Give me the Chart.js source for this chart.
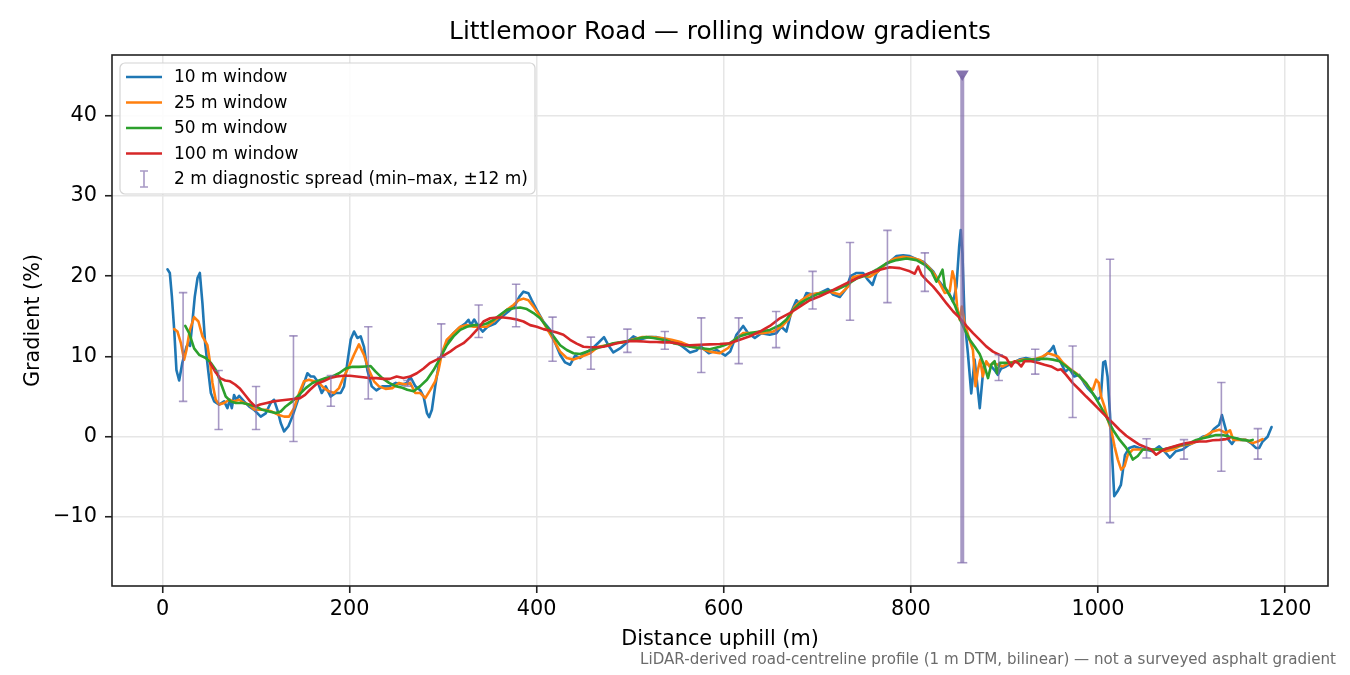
<!DOCTYPE html>
<html>
<head>
<meta charset="utf-8">
<script src="https://cdn.jsdelivr.net/npm/chart.js@4.4.1/dist/chart.umd.min.js"></script>
<style>
  html, body { margin: 0; padding: 0; background: #ffffff; }
  #wrap { width: 1350px; height: 675px; position: relative; }
</style>
</head>
<body>
<div id="wrap"><canvas id="c" width="1350" height="675"></canvas></div>
<script>
// ---------------- DATA ----------------
const chartTitle = "Littlemoor Road \u2014 rolling window gradients";
const xLabel = "Distance uphill (m)";
const yLabel = "Gradient (%)";
const footnote = "LiDAR-derived road-centreline profile (1 m DTM, bilinear) \u2014 not a surveyed asphalt gradient";
const seriesNames = ["10 m window", "25 m window", "50 m window", "100 m window"];
const errorName = "2 m diagnostic spread (min\u2013max, \u00b112 m)";
const xTicks = [0, 200, 400, 600, 800, 1000, 1200];
const yTicks = [-10, 0, 10, 20, 30, 40];

// [distance (m), gradient (%)]
const win10 = [[5.3,20.85],[7.8,20.4],[10,17.5],[12.5,13.3],[14.9,8.3],[17.8,7.0],[21.2,9.2],[25.6,11.2],[27.7,11.6],[29.5,11.3],[31.3,13.5],[34.5,17.45],[37.5,19.8],[39.9,20.4],[42.7,16.6],[45.6,11.6],[48.8,8.3],[51.7,5.44],[55.2,4.4],[60.5,4.0],[65.9,4.4],[69.4,3.56],[71.9,4.6],[74.1,3.56],[76.5,5.2],[79,4.6],[81.9,5.1],[87.2,4.4],[92.5,3.77],[97.9,3.35],[105,2.5],[110.3,2.9],[115.6,4.2],[119.2,4.6],[122.8,3.35],[126.4,1.7],[130,0.66],[134.6,1.3],[138.8,2.5],[146,5.0],[151.3,6.67],[154.9,7.9],[158.5,7.5],[162,7.5],[165.6,6.9],[170.2,5.44],[174.5,6.27],[179.8,5.0],[185.2,5.44],[190.5,5.44],[194.1,6.27],[197.6,9.2],[201.2,12.1],[204.8,13.1],[208.3,12.3],[211.9,12.5],[215.4,11.2],[219,8.3],[223.7,6.27],[228.6,5.77],[235,6.27],[242.2,6.27],[249.3,6.7],[256.4,6.5],[261.3,6.7],[264.8,7.5],[270.2,6.3],[275.5,5.8],[279.1,5.0],[282.7,2.95],[285.1,2.45],[288,3.35],[291.5,6.25],[296.2,9.57],[300.4,10.8],[305.8,12.07],[311.1,12.9],[316.5,13.5],[323.6,14.1],[327.1,14.56],[329.6,13.9],[333.2,14.6],[337.8,13.7],[342.4,13.1],[347.4,13.7],[355.6,14.1],[362.7,14.95],[369.8,15.6],[376.9,16.4],[381.6,17.45],[385.9,18.07],[391.2,17.87],[394.8,17.0],[400.1,15.8],[407.3,14.3],[414.4,13.3],[419.7,11.7],[425.1,10.2],[430.4,9.25],[435.7,8.96],[441.1,10.1],[446.4,9.8],[451.7,10.4],[458.8,10.9],[466,11.7],[472,12.4],[476.6,11.4],[482,10.5],[489.1,11.0],[496.2,11.7],[503.4,12.5],[510.5,12.1],[519.4,12.4],[528.3,12.4],[539,12.1],[549.7,11.7],[556.8,11.15],[563.9,10.5],[571,10.75],[574.9,11.3],[584,10.4],[592.6,10.8],[601.7,10.1],[606.9,10.6],[613.6,12.7],[620.8,13.8],[626.1,12.9],[633.2,12.3],[640.3,12.9],[649.1,12.7],[656.3,12.9],[661.6,13.7],[667,13.1],[672.4,15.6],[677.6,17.0],[683,16.4],[688.4,17.9],[695.5,17.7],[702.6,17.9],[711.6,18.4],[716.9,17.7],[724.1,17.4],[731.2,18.5],[735.5,20.0],[741.9,20.4],[749,20.4],[754.4,19.5],[759,18.9],[763.3,20.4],[770.4,21.2],[777.5,21.8],[784.7,22.5],[791.8,22.6],[798.9,22.5],[806,22.1],[813.2,21.8],[818.5,21.2],[823.9,20.6],[829.2,19.5],[834.6,18.7],[839.9,18.1],[845.2,16.8],[848.8,18.7],[851.7,23.7],[853.4,25.75],[855.2,22.8],[857.5,14.56],[861,10.4],[864.6,5.4],[868.2,9.6],[873.7,3.56],[877.8,8.75],[880.6,9.2],[886,8.75],[889.5,8.3],[893,7.7],[896.6,8.5],[901.7,8.75],[908.8,9.2],[915.9,9.6],[923,9.8],[930.2,9.6],[937.3,9.6],[944.4,10.2],[949.7,10.8],[952.6,11.3],[955.8,10.0],[960.5,9.2],[965.1,8.1],[969.4,8.5],[974.7,7.5],[980,7.7],[985.4,6.67],[989,6.05],[994.3,5.4],[999.7,4.6],[1003.2,5.0],[1005.7,9.25],[1007.8,9.4],[1010.3,7.5],[1012.9,2.9],[1015,-2.0],[1017.5,-7.4],[1021,-6.8],[1024.6,-6.0],[1026.4,-4.5],[1028.9,-2.3],[1033.5,-1.4],[1038.9,-1.2],[1044.2,-1.4],[1051.3,-1.6],[1058.4,-1.8],[1065.6,-1.2],[1070.9,-1.8],[1077,-2.6],[1083.4,-1.8],[1090.5,-1.6],[1097.6,-1.0],[1104.8,-0.6],[1111.9,0.0],[1119,0.2],[1124.4,1.0],[1129.7,1.5],[1132.6,2.7],[1135.1,1.6],[1139.7,-0.4],[1143.3,-0.9],[1147.6,-0.2],[1152.9,-0.4],[1158.2,-0.4],[1163.6,-0.8],[1168.9,-1.4],[1172.5,-1.4],[1176.1,-0.6],[1181.4,0.0],[1185.7,1.2]];

const win25 = [[12.5,13.4],[16,13.1],[19.6,11.7],[23.1,9.6],[25.6,10.8],[29.2,13.3],[33.8,14.9],[38.4,14.35],[42.7,12.5],[48,11.4],[50.9,9.2],[53.4,6.7],[56.9,4.6],[60.5,4.0],[65.9,4.2],[71.2,4.6],[76.5,4.4],[81.9,4.6],[87.2,4.2],[92.5,4.0],[97.9,3.4],[103.2,3.35],[110.3,3.35],[117.4,3.1],[124.6,2.7],[130,2.5],[135.3,2.5],[140.6,3.56],[146,5.4],[151.3,6.9],[156.6,7.1],[162,6.9],[167.3,6.7],[172.6,6.05],[178,5.65],[183.3,5.44],[188.7,6.05],[194,7.5],[199.3,8.75],[204.7,10.2],[210,11.5],[215.4,10.2],[220.7,8.3],[226.1,6.9],[231.4,6.27],[238.5,5.96],[245.6,6.05],[252.8,6.7],[259.5,6.5],[264.8,6.7],[270.2,5.44],[275.5,5.44],[280.9,4.8],[286.2,5.8],[291.5,6.9],[295.1,8.3],[298.7,10.4],[304,12.1],[311.1,12.9],[318.3,13.7],[325.4,13.9],[332.5,13.7],[339.6,13.7],[346.7,13.7],[353.9,14.35],[361,15.05],[368.1,15.8],[375.2,16.4],[380.6,17.0],[385.9,17.2],[391.2,17.0],[396.6,16.2],[403.7,14.95],[410.8,13.5],[418,12.07],[425.1,10.6],[432.2,9.8],[439.3,9.6],[448.2,10.0],[457.1,10.4],[466,11.2],[474.9,11.4],[483.8,11.65],[492.7,11.75],[501.6,12.07],[512.3,12.4],[523,12.4],[533.6,12.3],[544.3,12.07],[555,11.75],[565.6,11.2],[576.3,11.0],[585.1,10.6],[595.8,10.4],[604.7,11.05],[611.8,12.07],[620.8,12.9],[631.4,12.9],[642.1,12.9],[652.8,13.1],[661.6,13.7],[668.8,14.56],[675.9,16.2],[683,17.0],[691.9,17.7],[702.6,17.9],[713.3,18.07],[724,17.7],[733,18.7],[738.3,19.9],[747.2,20.1],[756.1,19.9],[765,20.6],[774,21.6],[782.9,22.2],[791.8,22.4],[800.7,22.3],[809.6,22.0],[818.5,21.2],[825.6,20.2],[831,19.1],[836.3,17.9],[841.6,18.1],[844.5,20.6],[847,19.5],[849.5,16.2],[852.3,14.56],[854.5,16.2],[857.5,14.15],[862.8,12.07],[866.4,10.8],[869.2,6.3],[871.7,8.3],[874.2,9.6],[877,7.5],[880.6,9.4],[884.2,8.75],[887.8,9.2],[893.1,8.96],[898.4,8.75],[905.5,9.2],[912.7,9.4],[919.8,9.6],[927,9.6],[934.1,9.7],[941.2,10.0],[946.6,10.4],[951.9,10.2],[957.2,10.0],[962.6,9.2],[969.7,8.5],[976.8,7.9],[983.9,7.1],[991.1,6.05],[994.6,5.85],[998.2,7.1],[1001,6.7],[1003.5,5.0],[1007,3.77],[1010.6,2.1],[1014.2,0.87],[1017.8,-1.2],[1021.3,-2.85],[1024.9,-4.1],[1028.4,-3.7],[1032,-2.25],[1037.3,-1.6],[1044.4,-1.6],[1051.5,-1.6],[1058.6,-1.6],[1065.7,-1.6],[1072.8,-1.8],[1080,-1.6],[1087.1,-1.2],[1094.2,-1.0],[1101.3,-0.8],[1108.4,-0.4],[1115.6,0.12],[1122.7,0.66],[1129.8,0.87],[1136.9,0.45],[1141.2,0.8],[1144.8,-0.4],[1151.1,-0.4],[1158.2,-0.4],[1165.4,-0.8],[1170.7,-0.6],[1176.1,-0.3]];

const win50 = [[24.3,13.8],[28.5,12.9],[33.8,11.0],[39.1,10.2],[46.3,9.8],[51.6,9.2],[57,8.3],[62.3,6.7],[67.6,5.0],[73,4.4],[78.3,4.2],[85.4,4.2],[92.5,4.0],[99.7,3.77],[106.8,3.35],[113.9,3.14],[121,2.95],[126.4,3.14],[131.7,3.77],[138.8,4.4],[146,5.2],[153.1,6.05],[160.2,6.7],[167.3,7.0],[174.5,7.3],[181.6,7.5],[188.7,7.9],[195.8,8.5],[203,8.7],[210,8.7],[217.2,8.75],[222.5,8.8],[227.8,8.1],[235,7.3],[242.2,6.7],[249.3,6.3],[256.4,6.1],[261.7,5.85],[268.4,5.65],[275.5,6.3],[282.7,7.1],[289.8,8.3],[296.9,9.8],[304,11.4],[311.1,12.5],[318.3,13.3],[325.4,13.7],[332.5,13.9],[339.6,13.9],[346.7,14.1],[353.9,14.56],[361,15.2],[368.1,15.8],[375.2,16.0],[382.4,16.1],[389.5,15.9],[396.6,15.4],[403.7,14.75],[410.8,13.7],[418,12.5],[425.1,11.4],[432.2,10.8],[439.3,10.4],[446.4,10.3],[453.5,10.6],[460.6,10.9],[467.8,11.15],[474.9,11.4],[482,11.65],[489.1,11.75],[496.2,11.9],[503.4,12.07],[510.5,12.3],[517.6,12.4],[524.7,12.3],[531.8,12.15],[539,12.0],[546.1,11.65],[553.2,11.5],[563.8,11.2],[574.4,11.05],[585.1,10.9],[595.8,11.2],[606.5,11.65],[617.2,12.5],[627.9,12.9],[638.6,13.1],[649.3,13.3],[660,13.9],[667,14.6],[674.2,15.8],[681.3,16.6],[690.2,17.2],[699.1,17.7],[709.8,18.07],[720.5,18.3],[731.2,18.9],[741.9,19.7],[752.6,20.1],[763.3,20.8],[774,21.6],[784.7,22.0],[795.4,22.2],[806.1,22.0],[815,21.4],[822.1,20.6],[827.4,19.3],[831,20.1],[833.9,20.8],[836.3,18.7],[839.9,17.9],[843.5,17.2],[847,16.4],[852.3,14.7],[857.7,13.3],[863,12.07],[868.4,11.2],[873.6,10.3],[878.9,8.75],[882.5,7.3],[886,8.96],[889.6,9.4],[892.1,7.9],[895,9.2],[902.1,9.2],[909.2,9.25],[916.4,9.4],[923.5,9.6],[930.6,9.6],[937.7,9.7],[944.8,9.7],[951.9,9.6],[959,9.4],[966.2,8.75],[973.3,8.1],[980.4,7.5],[987.5,6.67],[994.6,5.4],[1001.8,4.0],[1008.9,2.5],[1016,0.87],[1023.1,-0.37],[1030.3,-1.4],[1033.8,-2.0],[1037.4,-2.85],[1042.7,-2.4],[1048,-1.6],[1055.2,-1.6],[1062.3,-1.6],[1069.4,-1.6],[1076.5,-1.4],[1083.6,-1.2],[1090.8,-1.0],[1097.9,-0.8],[1105,-0.4],[1112.1,-0.2],[1119.2,0.0],[1126.3,0.2],[1133.4,0.2],[1140.6,0.0],[1147.7,-0.2],[1154.8,-0.4],[1161.9,-0.5],[1165.5,-0.4]];

const win100 = [[50.9,9.2],[56.3,8.1],[61.6,7.3],[67,7.0],[72.3,6.9],[77.6,6.5],[83,5.96],[88.3,5.2],[93.7,4.4],[99,3.77],[104.3,4.0],[111.4,4.2],[118.5,4.4],[125.7,4.5],[132.8,4.6],[139.9,4.7],[147,4.8],[152.4,5.2],[157.7,5.85],[164.8,6.6],[171.9,6.9],[179.1,7.3],[186.2,7.5],[193.3,7.6],[200.4,7.6],[207.5,7.5],[214.6,7.4],[221.8,7.3],[228.9,7.3],[236,7.2],[243.1,7.2],[250.3,7.5],[257.4,7.3],[264.8,7.5],[271.9,7.9],[279.1,8.5],[286.2,9.2],[293.3,9.6],[300.4,10.1],[307.5,10.6],[314.6,11.2],[321.8,11.65],[328.9,12.4],[336,13.3],[343.1,14.35],[350.3,14.75],[357.4,14.85],[364.5,14.85],[371.6,14.75],[378.7,14.6],[385.9,14.35],[393,13.9],[400.1,13.7],[407.2,13.4],[414.4,13.2],[421.5,12.97],[428.6,12.7],[435.7,12.07],[442.8,11.6],[450,11.2],[457.1,11.15],[464.2,11.15],[471.3,11.2],[478.4,11.4],[485.6,11.65],[492.7,11.8],[499.8,11.9],[506.9,11.9],[514,11.85],[521.2,11.8],[528.3,11.8],[535.4,11.75],[542.5,11.75],[549.6,11.65],[556.8,11.45],[563.8,11.4],[574.4,11.45],[585.1,11.5],[595.8,11.55],[606.5,11.65],[617.2,12.07],[627.9,12.5],[638.6,13.1],[649.3,13.8],[660,14.75],[670.6,15.4],[681.3,16.2],[692,17.0],[702.7,17.5],[713.4,18.07],[724,18.7],[734.7,19.3],[745.4,19.9],[756.1,20.4],[766.8,20.8],[777.5,21.1],[788.2,21.0],[798.9,20.6],[804.2,20.3],[807.8,21.2],[811.4,20.2],[816.8,19.5],[823.9,18.7],[831,17.7],[838.2,16.6],[845.3,15.6],[852.2,14.8],[859.4,13.8],[866.5,12.9],[873.5,12.1],[880.6,11.25],[887.8,10.6],[894.9,10.2],[902,9.8],[907.3,8.75],[911,9.4],[914.5,9.2],[918,8.75],[921.6,9.4],[928.7,9.4],[935.8,9.2],[942.9,8.96],[950,8.75],[957.2,8.3],[960.7,8.4],[966.1,7.7],[973.2,6.67],[980.4,5.85],[987.5,5.0],[994.6,4.2],[1001.8,3.35],[1008.9,2.5],[1016,1.7],[1023.1,0.87],[1030.3,0.12],[1037.4,-0.45],[1044.5,-1.0],[1051.6,-1.33],[1057,-1.6],[1062.3,-2.25],[1067.7,-1.8],[1073,-1.5],[1080.2,-1.25],[1087.3,-1.0],[1094.4,-0.8],[1101.5,-0.7],[1108.6,-0.6],[1115.7,-0.6],[1122.8,-0.45],[1130,-0.4],[1137.1,-0.3],[1140.6,-0.2]];

// 2 m diagnostic spread: positions, min and max (%)
const spreadX   = [22, 60, 100, 140, 180, 220, 262, 298, 338, 378, 417, 458, 497, 537, 576, 616, 656, 695, 735, 775, 815, 855, 894, 933, 973, 1013, 1052, 1092, 1132, 1171];
const spreadMin = [4.4, 0.9, 0.9, -0.6, 3.8, 4.7, 6.3, 9.9, 12.35, 13.7, 9.4, 8.4, 10.5, 10.9, 8.0, 9.1, 11.1, 15.9, 14.5, 16.7, 18.1, -15.7, 7.0, 7.8, 2.4, -10.7, -2.65, -2.8, -4.3, -2.8];
const spreadMax = [17.95, 8.25, 6.26, 12.56, 7.63, 13.7, 7.0, 14.05, 16.4, 19.0, 14.9, 12.4, 13.4, 13.1, 14.8, 14.8, 15.6, 20.6, 24.2, 25.7, 22.9, 45, 10.2, 10.9, 11.3, 22.1, -0.25, -0.37, 6.76, 1.0];
// spreads whose maximum lies beyond the plotted cap (drawn clipped with a marker)
const spreadOverflow = [false,false,false,false,false,false,false,false,false,false,false,false,false,false,false,false,false,false,false,false,false,true,false,false,false,false,false,false,false,false];

// ---------------- STYLE ----------------
const COLORS = ["#1f77b4", "#ff7f0e", "#2ca02c", "#d62728"];
const ERR_COLOR = "rgba(125,105,170,0.68)";
const ERR_MARK = "rgba(120,100,165,0.9)";
const FONT = "'DejaVu Sans', 'Liberation Sans', sans-serif";

const toXY = arr => arr.map(p => ({x: p[0], y: p[1]}));
const allSeries = [win10, win25, win50, win100];

const minus = v => (v < 0 ? "\u2212" + Math.abs(v) : String(v));

const errorBarPlugin = {
  id: 'errorBars',
  afterDatasetsDraw(chart) {
    const {ctx, chartArea, scales: {x, y}} = chart;
    ctx.save();
    ctx.beginPath();
    ctx.rect(chartArea.left, chartArea.top, chartArea.right - chartArea.left, chartArea.bottom - chartArea.top);
    ctx.clip();
    for (let i = 0; i < spreadX.length; i++) {
      const px = x.getPixelForValue(spreadX[i]);
      const p1 = y.getPixelForValue(spreadMin[i]);
      const p2 = y.getPixelForValue(spreadMax[i]);
      const big = spreadOverflow[i];
      ctx.strokeStyle = ERR_COLOR;
      ctx.lineWidth = big ? 4 : 1.6;
      ctx.beginPath();
      ctx.moveTo(px, p1); ctx.lineTo(px, p2);
      ctx.stroke();
      ctx.lineWidth = 1.6;
      const cw = big ? 5 : 4.2;
      ctx.beginPath();
      ctx.moveTo(px - cw, p1); ctx.lineTo(px + cw, p1);
      if (!big) { ctx.moveTo(px - cw, p2); ctx.lineTo(px + cw, p2); }
      ctx.stroke();
      if (big) {
        ctx.fillStyle = ERR_MARK;
        ctx.beginPath();
        ctx.moveTo(px - 6.5, p2 - 5);
        ctx.lineTo(px + 6.5, p2 - 5);
        ctx.lineTo(px, p2 + 5.5);
        ctx.closePath();
        ctx.fill();
      }
    }
    ctx.restore();
  }
};

const decorPlugin = {
  id: 'decor',
  afterDraw(chart) {
    const {ctx, chartArea} = chart;
    ctx.save();
    // frame
    ctx.strokeStyle = '#222';
    ctx.lineWidth = 1.6;
    ctx.strokeRect(chartArea.left, chartArea.top, chartArea.right - chartArea.left, chartArea.bottom - chartArea.top);
    // title
    ctx.fillStyle = '#000';
    ctx.font = "24.8px " + FONT;
    ctx.textAlign = 'center';
    ctx.textBaseline = 'middle';
    ctx.fillText(chartTitle, (chartArea.left + chartArea.right) / 2, 33);
    // footnote
    ctx.fillStyle = '#6b6b6b';
    ctx.font = "15.1px " + FONT;
    ctx.textAlign = 'right';
    ctx.fillText(footnote, 1336, 660);
    // legend
    const lx = chartArea.left + 8, ly = chartArea.top + 8, lw = 415, lh = 131;
    ctx.fillStyle = 'rgba(255,255,255,0.85)';
    ctx.strokeStyle = '#d4d4d4';
    ctx.lineWidth = 1.2;
    ctx.beginPath();
    ctx.roundRect(lx, ly, lw, lh, 5);
    ctx.fill(); ctx.stroke();
    ctx.font = "17px " + FONT;
    ctx.textAlign = 'left';
    ctx.textBaseline = 'middle';
    const rows = chart.data.datasets.length + 1;
    for (let i = 0; i < rows; i++) {
      const cy = ly + 14 + i * 25.5;
      if (i < chart.data.datasets.length) {
        const ds = chart.data.datasets[i];
        ctx.strokeStyle = ds.borderColor;
        ctx.lineWidth = 2.6;
        ctx.beginPath();
        ctx.moveTo(lx + 6, cy); ctx.lineTo(lx + 42, cy);
        ctx.stroke();
        ctx.fillStyle = '#000';
        ctx.fillText(ds.label, lx + 54, cy + 1);
      } else {
        const cx = lx + 24;
        ctx.strokeStyle = ERR_COLOR;
        ctx.lineWidth = 1.6;
        ctx.beginPath();
        ctx.moveTo(cx, cy - 8); ctx.lineTo(cx, cy + 8);
        ctx.moveTo(cx - 4, cy - 8); ctx.lineTo(cx + 4, cy - 8);
        ctx.moveTo(cx - 4, cy + 8); ctx.lineTo(cx + 4, cy + 8);
        ctx.stroke();
        ctx.fillStyle = '#000';
        ctx.fillText(errorName, lx + 54, cy + 1);
      }
    }
    ctx.restore();
  }
};

const tickFont = {family: FONT, size: 20.8};

new Chart(document.getElementById('c'), {
  type: 'line',
  data: {
    datasets: allSeries.map((s, i) => ({
      label: seriesNames[i],
      data: toXY(s),
      borderColor: COLORS[i],
      backgroundColor: COLORS[i],
      borderWidth: 2.6,
      borderJoinStyle: 'round',
      borderCapStyle: 'round',
      pointRadius: 0,
      tension: 0,
      fill: false,
      order: 4 - i
    }))
  },
  options: {
    responsive: false,
    animation: false,
    devicePixelRatio: 1,
    layout: {padding: {left: 0, right: 22, top: 55, bottom: 0}},
    plugins: {legend: {display: false}, tooltip: {enabled: false}, title: {display: false}},
    scales: {
      x: {
        type: 'linear',
        min: -54,
        max: 1246,
        afterFit(scale) { scale.height = 89; },
        afterBuildTicks(scale) { scale.ticks = xTicks.map(v => ({value: v})); },
        ticks: {font: tickFont, color: '#000', padding: 4, maxRotation: 0, autoSkip: false, includeBounds: false, callback: v => minus(v)},
        grid: {color: '#e6e6e6', lineWidth: 1.5, tickColor: '#222', tickLength: 7, tickWidth: 1.6, drawTicks: true},
        border: {display: false},
        title: {display: true, text: xLabel, font: {family: FONT, size: 20.8}, color: '#000', padding: {top: 0, bottom: 23}}
      },
      y: {
        type: 'linear',
        min: -18.6,
        max: 47.55,
        afterFit(scale) { scale.width = 112; },
        afterBuildTicks(scale) { scale.ticks = yTicks.map(v => ({value: v})); },
        ticks: {font: tickFont, color: '#000', padding: 8, autoSkip: false, includeBounds: false, callback: v => minus(v)},
        grid: {color: '#e6e6e6', lineWidth: 1.5, tickColor: '#222', tickLength: 7, tickWidth: 1.6, drawTicks: true},
        border: {display: false},
        title: {display: true, text: yLabel, font: {family: FONT, size: 20.8}, color: '#000', padding: {top: 21, bottom: 0}}
      }
    }
  },
  plugins: [errorBarPlugin, decorPlugin]
});
</script>
</body>
</html>
